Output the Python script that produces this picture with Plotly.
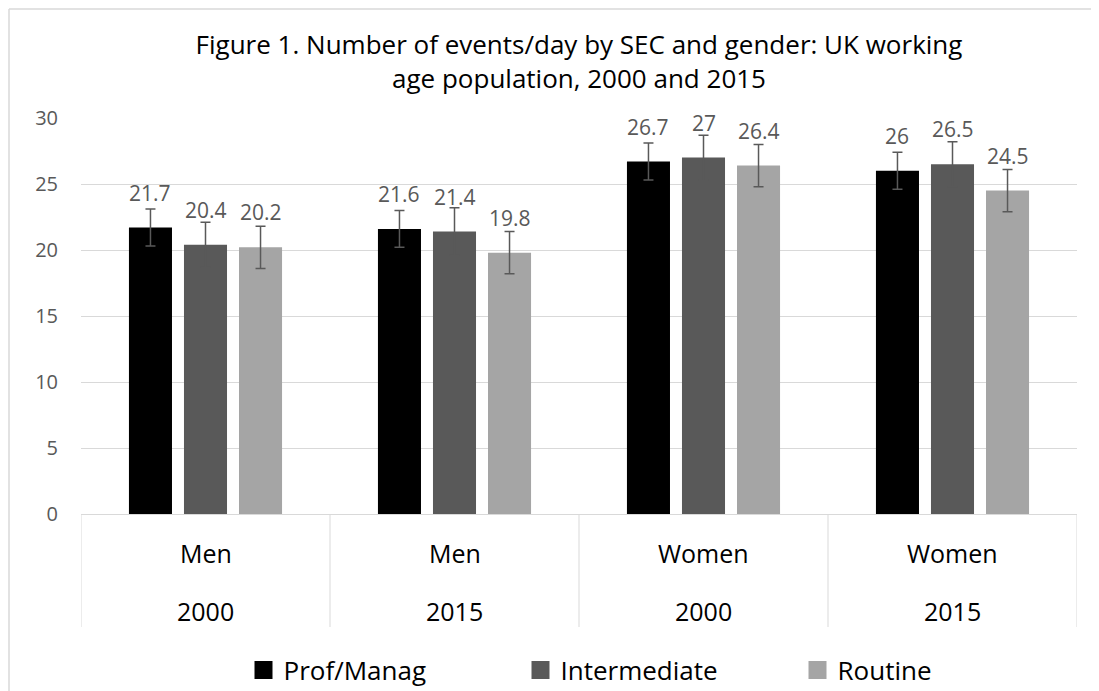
import plotly.graph_objects as go

# Data
genders = ["Men", "Men", "Women", "Women"]
years = ["2000", "2015", "2000", "2015"]
series_names = ["Prof/Manag", "Intermediate", "Routine"]
prof = [21.7, 21.6, 26.7, 26.0]
inter = [20.4, 21.4, 27.0, 26.5]
routine = [20.2, 19.8, 26.4, 24.5]
prof_err = [1.4, 1.4, 1.4, 1.4]
inter_err = [1.7, 1.8, 1.7, 1.7]
routine_err = [1.6, 1.6, 1.6, 1.6]

colors = ["#000000", "#595959", "#a5a5a5"]
FONT = "Open Sans, Lato, Arial, sans-serif"

# category keys (unique) for the x axis
cats = [f"{g} {y}" for g, y in zip(genders, years)]

# the page body has an 8px margin, so the figure is drawn 8px smaller
OFF = 8
W, H = 1099 - OFF, 691 - OFF
BARGAP = 0.337
BARGROUPGAP = 0.218
PLOT_L, PLOT_R, PLOT_T, PLOT_B = 81 - OFF, 22, 118 - OFF, 177
plot_w = W - PLOT_L - PLOT_R
plot_h = H - PLOT_T - PLOT_B
cat_w = plot_w / len(cats)
slot = cat_w * (1 - BARGAP) / len(series_names)


def py(px):
    # screen pixel y (from top of window) -> paper coords
    return (H - PLOT_B - (px - OFF)) / plot_h


def pxx(px):
    # screen pixel x -> paper coords
    return (px - OFF - PLOT_L) / plot_w


fig = go.Figure()

values = [prof, inter, routine]
errors = [prof_err, inter_err, routine_err]

for name, vals, errs, col in zip(series_names, values, errors, colors):
    fig.add_trace(go.Bar(
        x=cats,
        y=vals,
        name=name,
        marker=dict(color=col, line=dict(width=0)),
        error_y=dict(type="data", array=errs, color="#595959",
                     thickness=1.5, width=5),
        showlegend=False,
    ))

# legend entries with bigger square symbols
for name, col in zip(series_names, colors):
    fig.add_trace(go.Scatter(
        x=[None], y=[None], mode="markers", name=name,
        marker=dict(symbol="square", size=16, color=col,
                    line=dict(color=col, width=2)),
    ))

annotations = []
# data labels
for j, vals in enumerate(values):
    for c, v in zip(cats, vals):
        annotations.append(dict(
            x=c, y=v, xref="x", yref="y",
            text=f"{v:g}", showarrow=False,
            xshift=(j - 1) * slot, yshift=19,
            yanchor="bottom",
            font=dict(family=FONT, size=21, color="#595959"),
        ))

# two-row category table under the axis
for c, g, y in zip(cats, genders, years):
    annotations.append(dict(
        x=c, y=py(553), xref="x", yref="paper", text=g,
        showarrow=False, yanchor="middle",
        font=dict(family=FONT, size=25, color="#000000"),
    ))
    annotations.append(dict(
        x=c, y=py(611), xref="x", yref="paper", text=y,
        showarrow=False, yanchor="middle",
        font=dict(family=FONT, size=25, color="#000000"),
    ))

shapes = []
for i in range(len(cats) + 1):
    shapes.append(dict(
        type="line", xref="x", yref="paper",
        x0=i - 0.5, x1=i - 0.5, y0=0, y1=py(627),
        line=dict(color="#d9d9d9", width=1),
    ))

# outer chart border (cropped on the right and bottom in the reference)
shapes.append(dict(
    type="line", xref="paper", yref="paper",
    x0=pxx(9), x1=1.3, y0=py(9), y1=py(9),
    line=dict(color="#d9d9d9", width=1.5),
))
shapes.append(dict(
    type="line", xref="paper", yref="paper",
    x0=pxx(9), x1=pxx(9), y0=py(9), y1=-1.0,
    line=dict(color="#d9d9d9", width=1.5),
))

fig.update_layout(
    width=W, height=H,
    margin=dict(l=PLOT_L, r=PLOT_R, t=PLOT_T, b=PLOT_B, autoexpand=False),
    paper_bgcolor="white", plot_bgcolor="white",
    barmode="group", bargap=BARGAP, bargroupgap=BARGROUPGAP,
    title=dict(
        text="Figure 1. Number of events/day by SEC and gender: UK working<br>age population, 2000 and 2015",
        x=0.5, xref="paper", xanchor="center",
        y=1 - 46 / H, yref="container", yanchor="top",
        font=dict(family=FONT, size=26, color="#000000"),
    ),
    xaxis=dict(
        range=[-0.5, len(cats) - 0.5],
        showticklabels=False, showgrid=False, ticks="",
        showline=True, linecolor="#d9d9d9", linewidth=1,
        zeroline=False,
    ),
    yaxis=dict(
        range=[0, 30], dtick=5, tick0=0,
        showgrid=True, gridcolor="#d9d9d9", gridwidth=1,
        zeroline=False, showline=False, ticks="",
        ticklabelstandoff=22,
        tickfont=dict(family=FONT, size=20, color="#595959"),
    ),
    legend=dict(
        orientation="h", x=pxx(659), xanchor="center",
        y=py(670), yanchor="middle",
        entrywidth=232,
        font=dict(family=FONT, size=26, color="#000000"),
        bgcolor="rgba(0,0,0,0)",
    ),
    annotations=annotations,
    shapes=shapes,
)

fig.write_html("out.html")
